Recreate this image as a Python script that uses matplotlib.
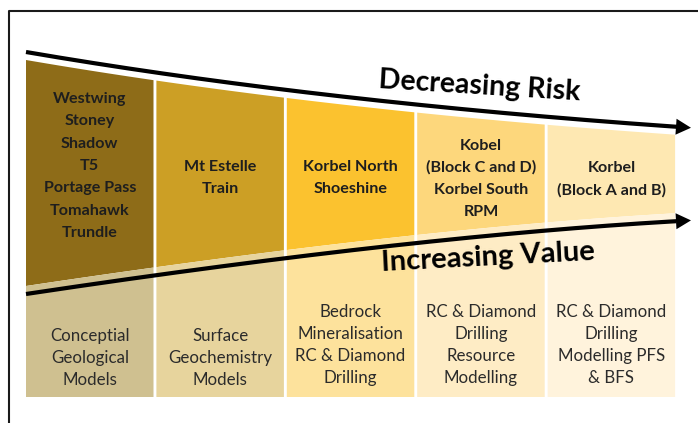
import numpy as np
import matplotlib.pyplot as plt
from matplotlib.patches import Polygon

# ---- data ---------------------------------------------------------------
projects = [
    ["Westwing", "Stoney", "Shadow", "T5", "Portage Pass", "Tomahawk", "Trundle"],
    ["Mt Estelle", "Train"],
    ["Korbel North", "Shoeshine"],
    ["Kobel", "(Block C and D)", "Korbel South", "RPM"],
    ["Korbel", "(Block A and B)"],
]
activities = [
    ["Conceptial", "Geological", "Models"],
    ["Surface", "Geochemistry", "Models"],
    ["Bedrock", "Mineralisation", "RC & Diamond", "Drilling"],
    ["RC & Diamond", "Drilling", "Resource", "Modelling"],
    ["RC & Diamond", "Drilling", "Modelling PFS", "& BFS"],
]
top_colors = ["#8e6c18", "#cc9f25", "#fbc22f", "#fdd77c", "#fee8b2"]
bottom_colors = ["#cfc090", "#e7d49d", "#fde29c", "#feecc5", "#fff3dc"]

# control points of the two curved arrows (pixel space)
risk_ctrl = np.array([[26, 52], [318, 102], [680, 127]])
value_ctrl = np.array([[26, 294], [412, 236], [680, 221]])

W, H = 698, 423
fig = plt.figure(figsize=(6.98, 4.23), dpi=100)
ax = fig.add_axes([0, 0, 1, 1])
ax.set_xlim(0, W)
ax.set_ylim(H, 0)
ax.axis('off')
plt.rcParams['font.family'] = ['Lato', 'DejaVu Sans']


def bezier(ctrl, n=300):
    t = np.linspace(0, 1, n)[:, None]
    pts = (1 - t) ** 2 * ctrl[0] + 2 * (1 - t) * t * ctrl[1] + t ** 2 * ctrl[2]
    return pts[:, 0], pts[:, 1]


rx, ry = bezier(risk_ctrl)
vx, vy = bezier(value_ctrl)

# ---- columns ------------------------------------------------------------
x0, col_w, gap, y_bottom = 26, 127.5, 2.9, 397
centers_top = [165, 177, 177, 178, 178]
for i in range(5):
    left = x0 + i * (col_w + gap)
    right = left + col_w
    xs = np.linspace(left, right, 40)
    ytop = np.interp(xs, rx, ry) + 8
    ymid = np.interp(xs, vx, vy) - 8
    upper = np.column_stack([np.r_[xs, xs[::-1]], np.r_[ytop, ymid[::-1]]])
    lower = np.column_stack([np.r_[xs, xs[::-1]], np.r_[ymid, np.full_like(xs, y_bottom)]])
    ax.add_patch(Polygon(upper, closed=True, fc=top_colors[i], ec='none'))
    ax.add_patch(Polygon(lower, closed=True, fc=bottom_colors[i], ec='none'))

    cx = (left + right) / 2
    n = len(projects[i])
    for j, line in enumerate(projects[i]):
        y = centers_top[i] + (j - (n - 1) / 2) * 22.3
        ax.text(cx, y + 5, line, ha='center', va='baseline', fontsize=11.6,
                fontweight='bold', color='#1e1e1e')
    n = len(activities[i])
    cy = 358 if n == 3 else 345
    for j, line in enumerate(activities[i]):
        y = cy + (j - (n - 1) / 2) * 22
        ax.text(cx, y + 5, line, ha='center', va='baseline', fontsize=12.2,
                color='#2b2b2b')


# ---- arrows -------------------------------------------------------------
def curved_arrow(ctrl, xs, ys):
    d = ctrl[2] - ctrl[1]
    d = d / np.hypot(*d)
    nrm = np.array([-d[1], d[0]])
    end = ctrl[2]
    keep = xs <= end[0] - 2
    ax.plot(xs[keep], ys[keep], color='black', lw=3.0, solid_capstyle='butt', zorder=5)
    tip = end + d * 11
    base = end - d * 4
    head = np.array([tip, base + nrm * 8, base - nrm * 8])
    ax.add_patch(Polygon(head, closed=True, fc='black', ec='none', zorder=6))


curved_arrow(risk_ctrl, rx, ry)
curved_arrow(value_ctrl, vx, vy)

ax.text(480, 86, "Decreasing Risk", ha='center', va='center', fontsize=20.5,
        fontweight='bold', rotation=-3.5, rotation_mode='anchor', color='black')
ax.text(488, 257, "Increasing Value", ha='center', va='center', fontsize=21,
        fontweight='bold', rotation=3, rotation_mode='anchor', color='black')

# frame
ax.plot([9, 9, W], [H, 11, 11], color='#1a1a1a', lw=1.5)

fig.savefig("out.png", dpi=100)
